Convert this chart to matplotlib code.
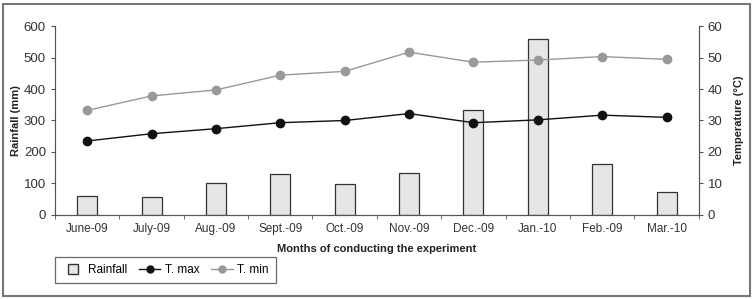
import numpy as np
import matplotlib.pyplot as plt
from matplotlib.patches import Rectangle
from matplotlib.lines import Line2D
from matplotlib import font_manager

months = ['June-09', 'July-09', 'Aug.-09', 'Sept.-09', 'Oct.-09',
          'Nov.-09', 'Dec.-09', 'Jan.-10', 'Feb.-09', 'Mar.-10']
rainfall = [61, 56, 100, 130, 97, 132, 333, 558, 162, 73]
t_max = [23.5, 25.8, 27.4, 29.3, 30.0, 32.2, 29.3, 30.2, 31.7, 31.0]
t_min = [33.2, 37.8, 39.7, 44.4, 45.6, 51.7, 48.5, 49.2, 50.3, 49.4]

# narrow font if there is one
names = {f.name for f in font_manager.fontManager.ttflist}
fam = ['Liberation Sans Narrow'] if 'Liberation Sans Narrow' in names else []
plt.rcParams['font.family'] = fam + ['Liberation Sans', 'DejaVu Sans']
plt.rcParams['font.size'] = 8.5

fig = plt.figure(figsize=(7.53, 2.99), dpi=100)
ax = fig.add_axes([0.073, 0.281, 0.855, 0.632])
ax2 = ax.twinx()

x = np.arange(len(months))
bars = ax.bar(x, rainfall, width=0.31, color='#e6e6e6', edgecolor='#333333',
              linewidth=0.9, zorder=2)
l1, = ax2.plot(x, t_max, '-o', color='#111111', markersize=6, linewidth=1.0)
l2, = ax2.plot(x, t_min, '-o', color='#999999', markersize=6, linewidth=1.0)

ax.set_xlim(-0.5, len(months) - 0.5)
ax.set_ylim(0, 600)
ax2.set_ylim(0, 60)
ax.set_yticks(range(0, 601, 100))
ax2.set_yticks(range(0, 61, 10))

ax.set_xticks(x)
ax.set_xticklabels(months, color='#333333')
ax.tick_params(axis='x', which='major', length=0, pad=6, labelsize=8.5)
ax.set_xticks(np.arange(-0.5, len(months), 1), minor=True)
ax.tick_params(axis='x', which='minor', length=3, color='#555555')
ax.tick_params(axis='y', length=3, color='#555555', labelcolor='#333333', labelsize=9.5)
ax2.tick_params(axis='y', length=3, color='#555555', labelcolor='#333333', labelsize=9.5)

for a in (ax, ax2):
    a.spines['top'].set_visible(False)
    for s in ('left', 'right', 'bottom'):
        a.spines[s].set_color('#555555')

ax.set_ylabel('Rainfall (mm)', fontweight='bold', color='#222222', labelpad=2,
              fontsize=8)
ax2.set_ylabel('Temperature (°C)', fontweight='bold', color='#222222', labelpad=8,
               fontsize=8)
ax.set_xlabel('Months of conducting the experiment', fontweight='bold',
              color='#222222', labelpad=6, fontsize=8)

rain_handle = Line2D([], [], linestyle='none', marker='s', markersize=7,
                     markerfacecolor='#e6e6e6', markeredgecolor='#333333')
l1_h = Line2D([], [], color='#111111', marker='o', markersize=5, linewidth=1.0)
l2_h = Line2D([], [], color='#999999', marker='o', markersize=5, linewidth=1.0)
leg = fig.legend([rain_handle, l1_h, l2_h], ['Rainfall', 'T. max', 'T. min'],
                 loc='lower left', bbox_to_anchor=(0.073, 0.053), ncol=3,
                 fancybox=False, edgecolor='#444444', fontsize=8.5,
                 handlelength=1.8, columnspacing=1.0, borderpad=0.6,
                 borderaxespad=0, handletextpad=0.4)
leg.get_frame().set_linewidth(0.9)

fig.patches.append(Rectangle((0.004, 0.01), 0.992, 0.975, transform=fig.transFigure,
                             fill=False, edgecolor='#777777', linewidth=1.5))

fig.savefig('out.png', dpi=100)
